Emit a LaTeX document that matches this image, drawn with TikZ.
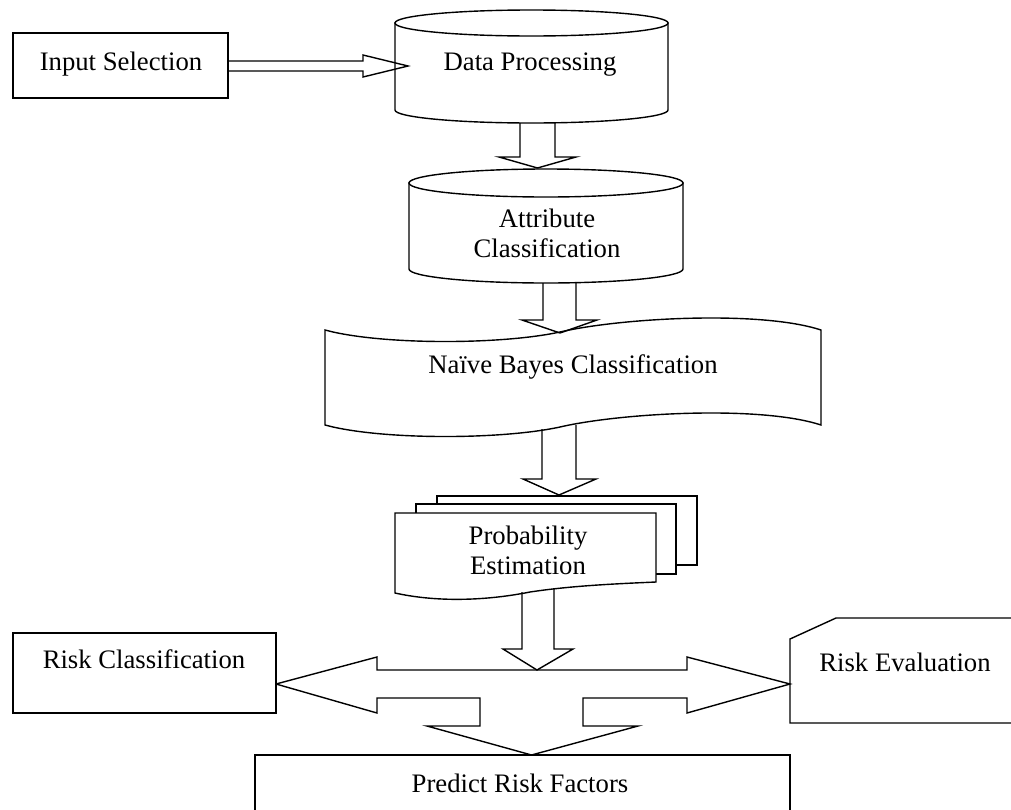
\documentclass[tikz,border=0pt]{standalone}
\usepackage{fontspec}
\setmainfont{Liberation Serif}
\begin{document}
\begin{tikzpicture}[x=1pt,y=-1pt,line width=1.4pt,line join=miter,
  shp/.style={draw=black,fill=white},
  blk/.style={draw=black},
  lbl/.style={inner sep=0pt,anchor=base,font=\fontsize{26.7}{30}\selectfont}]
\useasboundingbox (0,0) rectangle (1011,809);
% Input Selection
\draw[shp] (13,33) rectangle (228,98);
\node[lbl] (input) at (121,70) {Input Selection};
% Data Processing cylinder
\draw[shp] (395,23) -- (395,110) arc[start angle=180,end angle=0,x radius=136.5,y radius=13] -- (668,23) -- cycle;
\draw[shp] (531.5,23) ellipse[x radius=136.5,y radius=13];
\node[lbl] (dp) at (530,70) {Data Processing};
% arrow input -> data processing
\draw[blk] (228,61) -- (363,61) -- (363,55) -- (408,66) -- (363,77) -- (363,71) -- (228,71);
% Attribute cylinder
\draw[shp] (409,183) -- (409,269) arc[start angle=180,end angle=0,x radius=137,y radius=14] -- (683,183) -- cycle;
\draw[shp] (546,183) ellipse[x radius=137,y radius=14];
\node[lbl] (attr1) at (547,227) {Attribute};
\node[lbl] (attr2) at (547,257) {Classification};
% arrow dp -> attr
\draw[blk] (520,123) -- (520,157) -- (499,157) -- (537.5,168) -- (576,157) -- (555,157) -- (555,123);
% Naive Bayes tape
\draw[shp] (325,330) .. controls (380,345) and (500,345) .. (560,332)
  .. controls (620,318) and (760,310) .. (821,330) -- (821,425)
  .. controls (760,405) and (620,413) .. (560,427)
  .. controls (500,440) and (380,440) .. (325,425) -- cycle;
\node[lbl] (nb) at (573,373) {Naïve Bayes Classification};
% arrow attr -> naive
\draw[blk] (543,283) -- (543,320) -- (522,320) -- (560,333) -- (597,320) -- (576,320) -- (576,282);
% Probability stack
\draw[shp] (437,496) rectangle (697,565);
\draw[shp] (416,504) rectangle (676,574);
\draw[shp] (395,513) -- (656,513) -- (656,582) .. controls (610,584) and (570,586) .. (530,592)
  .. controls (490,600) and (440,603) .. (395,593) -- cycle;
\node[lbl] (pe1) at (528,544) {Probability};
\node[lbl] (pe2) at (528,574) {Estimation};
% arrow naive -> prob
\draw[blk] (542,429) -- (542,479) -- (523,479) -- (559,495) -- (596,479) -- (576,479) -- (576,425);
% arrow prob -> three-way
\draw[blk] (522,592) -- (522,649) -- (503,649) -- (537,670) -- (573,649) -- (554,649) -- (554,588);
% three-way arrow
\draw[blk] (276,684) -- (377,657) -- (377,670) -- (687,670) -- (687,657) -- (790,684)
  -- (687,713) -- (687,698) -- (583,698) -- (583,726) -- (638,726) -- (531.5,755)
  -- (427,726) -- (480,726) -- (480,698) -- (377,698) -- (377,713) -- cycle;
% Risk Classification
\draw[shp] (13,633) rectangle (276,713);
\node[lbl] (rc) at (144,668) {Risk Classification};
% Risk Evaluation
\draw[blk] (1011,723) -- (790,723) -- (790,639) -- (836,618) -- (1011,618);
\node[lbl] (re) at (905,671) {Risk Evaluation};
% Predict Risk Factors
\draw[blk] (255,812) -- (255,755) -- (790,755) -- (790,812);
\node[lbl] (prf) at (520,792) {Predict Risk Factors};
\end{tikzpicture}
\end{document}
